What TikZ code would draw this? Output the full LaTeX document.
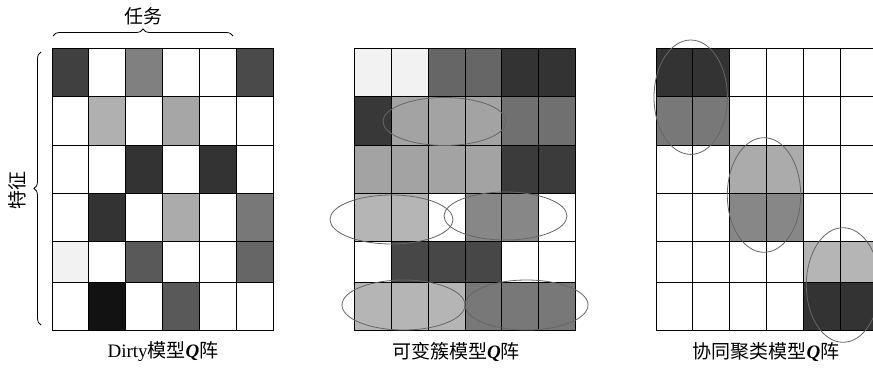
\documentclass[tikz,border=0pt]{standalone}
\usepackage{fontspec}
\setmainfont{Liberation Serif}
\newfontfamily\cjk{Noto Sans CJK SC}
\usetikzlibrary{decorations.pathreplacing}
\tikzset{
  cell/.style={draw=black, line width=1pt},
  clus/.style={draw=black!60, line width=0.8pt},
  lbl/.style={font=\fontsize{19}{19}\selectfont, inner sep=0pt},
  brc/.style={decorate, decoration={brace, amplitude=7pt}, line width=0.8pt},
}
% one 6x6 grid: #1 = left x, #2 = rows of grey levels
\newcommand{\qgrid}[2]{%
  \foreach \cols [count=\r from 0] in {#2}{
    \pgfmathsetmacro{\ytop}{{48,96.5,145,193,241,282,330}[\r]}
    \pgfmathsetmacro{\ybot}{{48,96.5,145,193,241,282,330}[\r+1]}
    \foreach \g [count=\c from 0] in \cols
      \filldraw[cell, fill=black!\g] ({#1+\c*36.9},\ytop) rectangle ({#1+(\c+1)*36.9},\ybot);
  }}

\begin{document}
\begin{tikzpicture}[x=1pt, y=-1pt]
\clip (0,0) rectangle (873,367);
% Dirty model
\qgrid{52}{{75,0,50,0,0,71},{0,31,0,35,0,0},{0,0,80,0,80,0},{0,80,0,33,0,53},{5,0,65,0,0,60},{0,93,0,65,0,0}}
% variable cluster model
\qgrid{354.3}{{5,5,60,60,80,80},{78,36,36,36,56,56},{36,36,36,36,77,77},{29,29,0,47,47,0},{0,72,72,72,0,0},{29,29,29,53,53,53}}
\draw[clus] (444.5,121.5) ellipse [x radius=61.5, y radius=24];
\draw[clus] (391.5,219.5) ellipse [x radius=61.5, y radius=24.5];
\draw[clus] (505.5,216) ellipse [x radius=61.5, y radius=24];
\draw[clus] (403.5,305) ellipse [x radius=61.5, y radius=25];
\draw[clus] (526.5,305) ellipse [x radius=61.5, y radius=25];
% co-clustering model
\qgrid{656}{{80,80,0,0,0,0},{53,53,0,0,0,0},{0,0,33,33,0,0},{0,0,47,47,0,0},{0,0,0,0,29,29},{0,0,0,0,80,80}}
\draw[clus] (690.7,97.2) ellipse [x radius=36.7, y radius=57.2];
\draw[clus] (764,195) ellipse [x radius=36.7, y radius=57.3];
\draw[clus] (843,285) ellipse [x radius=36.7, y radius=57.3];
% braces and labels
\draw[brc] (53,36) -- (233,36);
\node[lbl] (task) at (143,16) {\cjk 任务};
\draw[brc] (41,325) -- (41,52);
\node[lbl, rotate=90] (feat) at (17,190) {\cjk 特征};
\node[lbl] (lblA) at (163,352) {Dirty{\cjk 模型}\textbf{\textit{Q}}{\cjk 阵}};
\node[lbl] (lblB) at (456,352) {{\cjk 可变簇模型}\textbf{\textit{Q}}{\cjk 阵}};
\node[lbl] (lblC) at (766,352) {{\cjk 协同聚类模型}\textbf{\textit{Q}}{\cjk 阵}};
\end{tikzpicture}
\end{document}
